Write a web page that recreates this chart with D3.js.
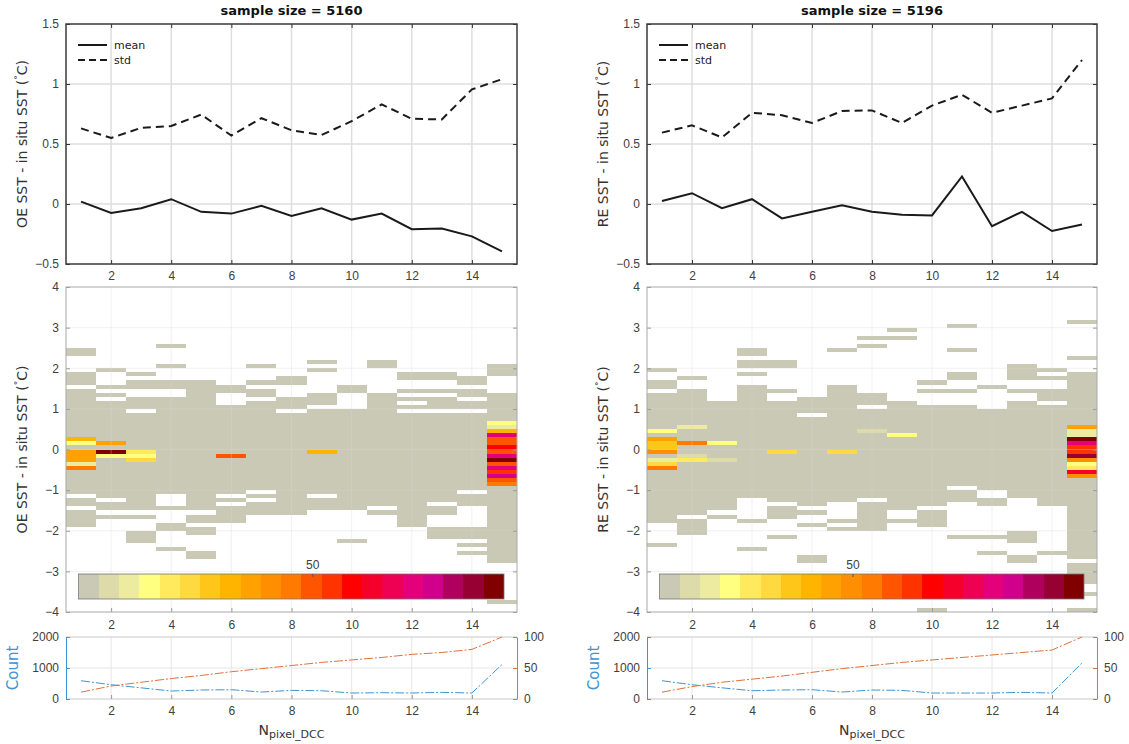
<!DOCTYPE html>
<html lang="en">
<head>
<meta charset="UTF-8">
<title>SST difference vs N_pixel_DCC</title>
<script src="https://d3js.org/d3.v7.min.js"></script>
<style>
body{margin:0;background:#fff;}
svg{font-family:"DejaVu Sans",sans-serif;}
.tick text{font-size:12px;fill:#404040;}
</style>
</head>
<body>
<script>
// x categories (N_pixel_DCC)
var nPix = d3.range(1, 16);

// top panels: mean / std of SST difference
var oeMean = [0.02,-0.075,-0.035,0.04,-0.065,-0.08,-0.015,-0.10,-0.035,-0.13,-0.08,-0.21,-0.205,-0.27,-0.395];
var oeStd  = [0.63,0.55,0.635,0.65,0.745,0.57,0.715,0.615,0.575,0.69,0.83,0.71,0.705,0.955,1.04];
var reMean = [0.025,0.09,-0.035,0.04,-0.12,-0.065,-0.01,-0.065,-0.09,-0.095,0.23,-0.185,-0.065,-0.225,-0.17];
var reStd  = [0.595,0.655,0.555,0.76,0.74,0.675,0.775,0.78,0.675,0.82,0.91,0.76,0.82,0.88,1.2];

// bottom panels: counts and cumulative percentage
var oeCount = [590,460,360,257,290,300,225,278,267,193,203,193,214,193,1112];
var oeCum   = [11,21,27,33,38,44,49,54,59,63,67,72,75,80,100];
var reCount = [590,460,360,267,290,300,225,290,278,193,193,193,214,193,1165];
var reCum   = [11,20,27,32,37,43,49,54,59,63,67,71,75,79,100];

// colour levels of the colorbar (21 blocks)
var levelColors = ["#cac9b5","#dcdba9","#eceba0","#ffff80","#ffea5e","#ffd93f","#ffc61a","#ffb400",
  "#ffa100","#ff8e00","#ff7a00","#ff5500","#ff3300","#ff0000","#f5002a","#ee0052","#e5007b",
  "#d1008c","#b0005e","#970032","#800000"];
var cbMaxOE = 91, cbMaxRE = 110;

// 2D histogram, 0.1 degC bins: lowest-count (grey) runs [lo, hi] for each column
var oeGray = [
  [[2.3,2.5],[1.6,1.9],[-1.1,1.5],[-1.4,-1.2],[-1.9,-1.5]],
  [[1.9,2.0],[1.5,1.6],[1.3,1.4],[-1.2,1.2],[-1.5,-1.3],[-1.7,-1.6]],
  [[1.8,1.9],[1.5,1.7],[1.0,1.3],[-1.5,0.9],[-1.7,-1.6],[-2.3,-2.0]],
  [[2.5,2.6],[2.0,2.1],[1.5,1.7],[-1.1,1.3],[-1.5,-1.4],[-2.0,-1.8],[-2.5,-2.4]],
  [[-1.5,1.7],[-1.8,-1.6],[-2.1,-1.9],[-2.7,-2.5]],
  [[1.4,1.6],[-1.1,1.1],[-1.3,-1.2],[-1.8,-1.4]],
  [[2.0,2.1],[1.6,1.7],[1.3,1.5],[-1.0,1.2],[-1.2,-1.1],[-1.6,-1.3]],
  [[1.6,1.8],[1.0,1.3],[-1.6,0.9]],
  [[2.1,2.2],[1.9,2.0],[1.1,1.4],[-1.1,1.0],[-1.5,-1.2]],
  [[1.4,1.6],[-1.5,1.0],[-2.3,-2.2]],
  [[2.0,2.2],[-1.4,1.4],[-1.6,-1.5]],
  [[1.7,1.9],[1.4,1.5],[1.2,1.3],[1.0,1.1],[-1.9,0.9]],
  [[1.7,1.9],[1.4,1.5],[1.0,1.3],[-1.3,0.9],[-1.6,-1.4],[-2.2,-1.9]],
  [[1.6,1.8],[1.3,1.5],[1.0,1.2],[-1.0,0.9],[-1.4,-1.1],[-2.2,-1.9],[-2.4,-2.3],[-2.6,-2.5]],
  [[1.8,2.1],[-2.8,1.4],[-3.8,-3.7]]
];
// higher-count cells: [column, bin lower edge, colour level]
var oeHot = [
  [1,0.2,7],[1,0.1,3],[1,-0.1,8],[1,-0.2,8],[1,-0.3,8],[1,-0.4,2],[1,-0.5,10],
  [2,0.1,8],[2,-0.1,20],[2,-0.2,3],
  [3,-0.1,4],[3,-0.2,3],[3,-0.3,5],
  [6,-0.2,11],
  [9,-0.1,7],
  [15,0.6,3],[15,0.5,2],[15,0.4,7],[15,0.3,16],[15,0.2,11],[15,0.1,11],[15,0.0,13],[15,-0.1,11],
  [15,-0.2,16],[15,-0.3,20],[15,-0.4,11],[15,-0.5,16],[15,-0.6,12],[15,-0.7,17],[15,-0.8,11],[15,-0.9,10]
];
var reGray = [
  [[1.9,2.0],[1.5,1.7],[-1.8,1.4],[-2.4,-2.3]],
  [[1.7,1.8],[-1.6,1.5],[-2.1,-1.7]],
  [[-1.5,1.2],[-1.7,-1.6]],
  [[2.3,2.5],[2.0,2.2],[1.8,1.9],[-1.2,1.6],[-1.8,-1.7],[-2.5,-2.4]],
  [[2.0,2.2],[1.4,1.5],[-1.3,1.2],[-1.7,-1.4],[-2.2,-2.1]],
  [[0.9,1.3],[-1.4,0.8],[-1.6,-1.5],[-1.9,-1.8],[-2.8,-2.6]],
  [[2.4,2.5],[-1.3,1.6],[-1.8,-1.7],[-2.0,-1.9]],
  [[2.7,2.8],[2.5,2.6],[1.1,1.4],[-1.2,1.0],[-2.0,-1.3]],
  [[2.9,3.0],[2.7,2.8],[-1.5,1.2],[-1.8,-1.7]],
  [[1.6,1.7],[1.4,1.5],[-1.4,1.1],[-1.9,-1.5],[-4.0,-3.9]],
  [[3.0,3.1],[2.4,2.5],[1.7,1.9],[1.4,1.5],[-0.9,1.1],[-1.3,-1.0],[-2.2,-2.1]],
  [[1.5,1.6],[-1.0,1.0],[-1.4,-1.2],[-2.2,-2.1],[-2.6,-2.5]],
  [[1.7,2.1],[1.4,1.5],[-1.2,1.2],[-2.3,-2.0],[-2.8,-2.6]],
  [[1.9,2.0],[1.7,1.8],[1.2,1.5],[-1.4,1.1],[-2.6,-2.5]],
  [[3.1,3.2],[2.2,2.3],[-2.7,1.9],[-3.3,-2.8],[-3.6,-3.5],[-4.0,-3.9]]
];
var reHot = [
  [1,0.4,3],[1,0.2,8],[1,0.1,6],[1,0.0,6],[1,-0.1,9],[1,-0.3,2],[1,-0.4,5],[1,-0.5,10],
  [2,0.5,2],[2,0.1,10],[2,-0.2,1],[2,-0.3,4],
  [3,0.1,3],[3,-0.3,1],
  [5,-0.1,5],[7,-0.1,5],[8,0.4,1],[9,0.3,3],
  [15,0.5,8],[15,0.4,2],[15,0.3,2],[15,0.2,20],[15,0.1,16],[15,0.0,12],[15,-0.1,12],
  [15,-0.2,19],[15,-0.3,9],[15,-0.4,3],[15,-0.5,4],[15,-0.6,14],[15,-0.7,9]
];

var width = 1129, height = 744;
var svg = d3.select('body').append('svg').attr('width', width).attr('height', height);

var blue = '#3d95d3', orange = '#e0703c';
var binW = 0.1;

function yLabel(g, x, y, prefix, color){
  var t = g.append('text').attr('transform','translate('+x+','+y+') rotate(-90)')
    .attr('text-anchor','middle').attr('font-size',14).attr('fill',color||'#333');
  t.append('tspan').text(prefix + ' SST - in situ SST (');
  t.append('tspan').attr('font-size',9).attr('dy',-6).text('°');
  t.append('tspan').attr('dy',6).text('C)');
}

function drawColumn(cfg){
  var g = svg.append('g');
  var x = d3.scaleLinear().domain([0.5, 15.5]).range([cfg.x0, cfg.x1]);
  var w = cfg.x1 - cfg.x0;
  var xt = d3.range(2, 15, 2);

  // ---------- top panel ----------
  var t0 = 24, t1 = 264;
  var yT = d3.scaleLinear().domain([-0.5, 1.5]).range([t1, t0]);
  var top = g.append('g');
  top.append('g').selectAll('line').data(xt).enter().append('line')
    .attr('x1', d => x(d)).attr('x2', d => x(d)).attr('y1', t0).attr('y2', t1)
    .attr('stroke','#dedede').attr('stroke-width',1.5);
  top.append('g').selectAll('line').data([0,0.5,1]).enter().append('line')
    .attr('x1', cfg.x0).attr('x2', cfg.x1).attr('y1', d => yT(d)).attr('y2', d => yT(d))
    .attr('stroke','#dedede').attr('stroke-width',1.5);

  var xAxisT = d3.axisBottom(x).tickValues(xt).tickSizeInner(-4).tickSizeOuter(0).tickPadding(7);
  top.append('g').attr('transform','translate(0,'+t1+')').call(xAxisT)
    .call(s => s.select('.domain').remove()).selectAll('line').attr('stroke','#333');
  top.append('g').attr('transform','translate(0,'+t0+')')
    .call(d3.axisTop(x).tickValues(xt).tickSizeInner(-4).tickSizeOuter(0).tickFormat(''))
    .call(s => s.select('.domain').remove()).selectAll('line').attr('stroke','#333');
  var yAxisT = d3.axisLeft(yT).tickValues([-0.5,0,0.5,1,1.5]).tickFormat(d3.format('')).tickSizeInner(-4).tickSizeOuter(0).tickPadding(7);
  top.append('g').attr('transform','translate('+cfg.x0+',0)').call(yAxisT)
    .call(s => s.select('.domain').remove()).selectAll('line').attr('stroke','#333');
  top.append('g').attr('transform','translate('+cfg.x1+',0)')
    .call(d3.axisRight(yT).tickValues([-0.5,0,0.5,1,1.5]).tickSizeInner(-4).tickSizeOuter(0).tickFormat(''))
    .call(s => s.select('.domain').remove()).selectAll('line').attr('stroke','#333');

  var line = d3.line().x((d,i) => x(nPix[i])).y(d => yT(d));
  top.append('path').datum(cfg.std).attr('d', line).attr('fill','none')
    .attr('stroke','#1a1a1a').attr('stroke-width',2).attr('stroke-dasharray','8,5');
  top.append('path').datum(cfg.mean).attr('d', line).attr('fill','none')
    .attr('stroke','#1a1a1a').attr('stroke-width',2);

  top.append('rect').attr('x', cfg.x0).attr('y', t0).attr('width', w).attr('height', t1 - t0)
    .attr('fill','none').attr('stroke','#3a3a3a').attr('stroke-width',1.5);

  // legend
  var lg = top.append('g').attr('transform','translate('+(cfg.x0+12)+',45)');
  lg.append('line').attr('x1',0).attr('x2',29).attr('y1',0).attr('y2',0).attr('stroke','#1a1a1a').attr('stroke-width',2);
  lg.append('line').attr('x1',0).attr('x2',29).attr('y1',15).attr('y2',15).attr('stroke','#1a1a1a').attr('stroke-width',2).attr('stroke-dasharray','7,4');
  lg.append('text').attr('x',36).attr('y',4).attr('font-size',11).attr('fill','#222').text('mean');
  lg.append('text').attr('x',36).attr('y',19).attr('font-size',11).attr('fill','#222').text('std');

  top.append('text').attr('x', (cfg.x0+cfg.x1)/2).attr('y', 15).attr('text-anchor','middle')
    .attr('font-size',13).attr('font-weight','bold').attr('fill','#111').text(cfg.title);
  yLabel(top, cfg.x0 - 39, (t0+t1)/2, cfg.prefix);

  // ---------- middle panel (2D histogram) ----------
  var m0 = 287, m1 = 612;
  var yM = d3.scaleLinear().domain([-4, 4]).range([m1, m0]);
  var mid = g.append('g');

  var cells = [];
  cfg.gray.forEach(function(runs, i){
    runs.forEach(function(r){ cells.push({c: nPix[i], lo: r[0], hi: r[1], lev: 0}); });
  });
  cfg.hot.forEach(function(h){ cells.push({c: h[0], lo: h[1], hi: h[1] + binW, lev: h[2]}); });

  mid.append('g').selectAll('rect').data(cells).enter().append('rect')
    .attr('x', d => x(d.c - 0.5)).attr('width', d => x(d.c + 0.5) - x(d.c - 0.5))
    .attr('y', d => yM(d.hi)).attr('height', d => yM(d.lo) - yM(d.hi))
    .attr('fill', d => levelColors[d.lev]).attr('shape-rendering','crispEdges');

  mid.append('g').selectAll('line').data(xt).enter().append('line')
    .attr('x1', d => x(d)).attr('x2', d => x(d)).attr('y1', m0).attr('y2', m1)
    .attr('stroke','#d8d8d8').attr('stroke-width',0.6).attr('stroke-opacity',0.6);
  mid.append('g').selectAll('line').data(d3.range(-3,4)).enter().append('line')
    .attr('x1', cfg.x0).attr('x2', cfg.x1).attr('y1', d => yM(d)).attr('y2', d => yM(d))
    .attr('stroke','#d8d8d8').attr('stroke-width',0.6).attr('stroke-opacity',0.6);

  mid.append('g').attr('transform','translate(0,'+m1+')')
    .call(d3.axisBottom(x).tickValues(xt).tickSizeInner(-4).tickSizeOuter(0).tickPadding(8))
    .call(s => s.select('.domain').remove()).selectAll('line').attr('stroke','#999');
  mid.append('g').attr('transform','translate('+cfg.x0+',0)')
    .call(d3.axisLeft(yM).tickValues(d3.range(-4,5)).tickSizeInner(-4).tickSizeOuter(0).tickPadding(7))
    .call(s => s.select('.domain').remove()).selectAll('line').attr('stroke','#999');
  mid.append('g').attr('transform','translate('+cfg.x1+',0)')
    .call(d3.axisRight(yM).tickValues(d3.range(-4,5)).tickSizeInner(-4).tickSizeOuter(0).tickFormat(''))
    .call(s => s.select('.domain').remove()).selectAll('line').attr('stroke','#999');
  mid.append('rect').attr('x', cfg.x0).attr('y', m0).attr('width', w).attr('height', m1 - m0)
    .attr('fill','none').attr('stroke','#a8a8a8').attr('stroke-width',1);
  yLabel(mid, cfg.x0 - 39, (m0+m1)/2, cfg.prefix);

  // colorbar
  var cb0 = cfg.x0 + 12.5, cb1 = cfg.x1 - 13, cy = 574, ch = 25;
  var bw = (cb1 - cb0) / levelColors.length;
  mid.append('g').selectAll('rect').data(levelColors).enter().append('rect')
    .attr('x', (d,i) => cb0 + i*bw).attr('width', bw + 0.3).attr('y', cy).attr('height', ch)
    .attr('fill', d => d).attr('shape-rendering','crispEdges');
  mid.append('rect').attr('x', cb0).attr('y', cy).attr('width', cb1 - cb0).attr('height', ch)
    .attr('fill','none').attr('stroke','#777').attr('stroke-width',0.8);
  var cbScale = d3.scaleLinear().domain([0, cfg.cbMax]).range([cb0, cb1]);
  mid.append('g').attr('transform','translate(0,'+cy+')')
    .call(d3.axisTop(cbScale).tickValues([50]).tickSizeInner(-3).tickSizeOuter(0).tickPadding(5))
    .call(s => s.select('.domain').remove())
    .call(s => s.selectAll('text').attr('font-size',11).attr('fill','#555'))
    .selectAll('line').attr('stroke','#555');

  // ---------- bottom panel (counts) ----------
  var b0 = 637, b1 = 699;
  var yC = d3.scaleLinear().domain([0, 2000]).range([b1, b0]);
  var yP = d3.scaleLinear().domain([0, 100]).range([b1, b0]);
  var bot = g.append('g');
  bot.append('g').selectAll('line').data(xt).enter().append('line')
    .attr('x1', d => x(d)).attr('x2', d => x(d)).attr('y1', b0).attr('y2', b1)
    .attr('stroke','#e6e6e6').attr('stroke-width',1);
  bot.append('line').attr('x1', cfg.x0).attr('x2', cfg.x1).attr('y1', yC(1000)).attr('y2', yC(1000))
    .attr('stroke','#e6e6e6').attr('stroke-width',1);
  bot.append('line').attr('x1', cfg.x0).attr('x2', cfg.x1).attr('y1', b0).attr('y2', b0).attr('stroke','#c8c8c8');
  bot.append('line').attr('x1', cfg.x0).attr('x2', cfg.x1).attr('y1', b1).attr('y2', b1).attr('stroke','#c8c8c8');

  bot.append('g').attr('transform','translate(0,'+b1+')')
    .call(d3.axisBottom(x).tickValues(xt).tickSizeInner(-4).tickSizeOuter(0).tickPadding(7))
    .call(s => s.select('.domain').remove()).selectAll('line').attr('stroke','#999');
  bot.append('g').attr('transform','translate('+cfg.x0+',0)')
    .call(d3.axisLeft(yC).tickValues([0,1000,2000]).tickFormat(d3.format('d')).tickSizeInner(-4).tickSizeOuter(0).tickPadding(7))
    .call(s => s.select('.domain').attr('stroke', blue))
    .call(s => s.selectAll('text').attr('fill', blue).attr('font-size',13))
    .selectAll('line').attr('stroke', blue);
  bot.append('g').attr('transform','translate('+cfg.x1+',0)')
    .call(d3.axisRight(yP).tickValues([0,50,100]).tickSizeInner(-4).tickSizeOuter(0).tickPadding(7))
    .call(s => s.select('.domain').attr('stroke', orange))
    .call(s => s.selectAll('text').attr('fill', orange).attr('font-size',13))
    .selectAll('line').attr('stroke', orange);

  var lineC = d3.line().x((d,i) => x(nPix[i])).y(d => yC(d));
  var lineP = d3.line().x((d,i) => x(nPix[i])).y(d => yP(d));
  bot.append('path').datum(cfg.count).attr('d', lineC).attr('fill','none')
    .attr('stroke', blue).attr('stroke-width',1).attr('stroke-dasharray','9,2,2,2');
  bot.append('path').datum(cfg.cum).attr('d', lineP).attr('fill','none')
    .attr('stroke', orange).attr('stroke-width',1).attr('stroke-dasharray','9,2,2,2');

  bot.append('text').attr('transform','translate('+(cfg.x0-48)+','+((b0+b1)/2)+') rotate(-90)')
    .attr('text-anchor','middle').attr('font-size',15).attr('fill', blue).text('Count');
  var xl = bot.append('text').attr('x', (cfg.x0+cfg.x1)/2).attr('y', 735).attr('text-anchor','middle')
    .attr('font-size',14).attr('fill','#333');
  xl.append('tspan').text('N');
  xl.append('tspan').attr('font-size',11).attr('dy',3).text('pixel_DCC');
}

drawColumn({x0: 66, x1: 517, title: 'sample size = 5160', prefix: 'OE',
  mean: oeMean, std: oeStd, gray: oeGray, hot: oeHot, cbMax: cbMaxOE, count: oeCount, cum: oeCum});
drawColumn({x0: 647, x1: 1097, title: 'sample size = 5196', prefix: 'RE',
  mean: reMean, std: reStd, gray: reGray, hot: reHot, cbMax: cbMaxRE, count: reCount, cum: reCum});
</script>
</body>
</html>
